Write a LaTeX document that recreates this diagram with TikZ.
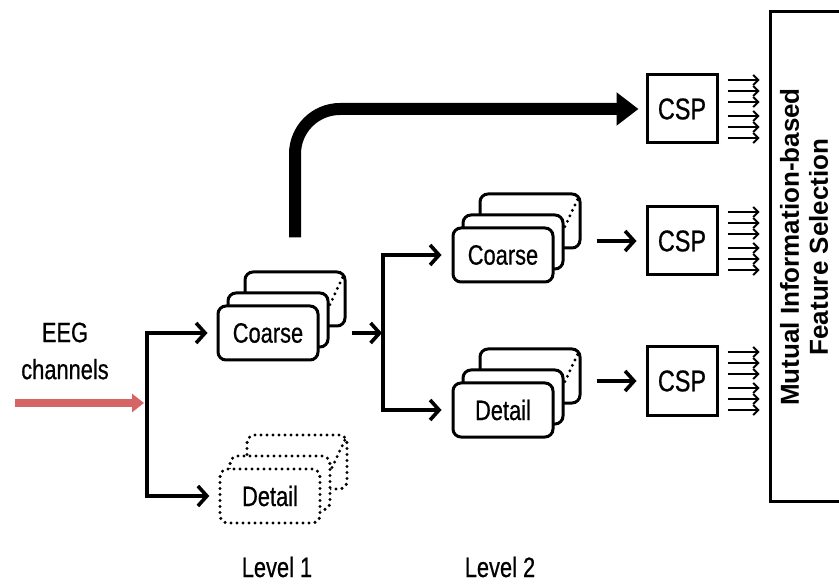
\documentclass[tikz,border=0pt]{standalone}
\usepackage{fontspec}
\setmainfont{Liberation Sans}
\newfontfamily\narrowsf{Liberation Sans}[FakeStretch=0.78, FakeBold=0.6]
\usepackage{tikz}
\usetikzlibrary{arrows.meta, positioning, calc}
\definecolor{eegred}{RGB}{214,100,100}
\tikzset{
   mylayer/.style={draw, fill=white, line width=3pt, rounded corners=8pt, minimum width=100pt, minimum height=54pt, font=\narrowsf\fontsize{28}{30}\selectfont},
   mydotlayer/.style={mylayer, line width=3.4pt, line cap=round, dash pattern=on 0pt off 6pt},
   mycsp/.style={draw, fill=white, line width=3pt, minimum width=70pt, minimum height=68pt, font=\narrowsf\fontsize{30}{32}\selectfont},
   mylabel/.style={font=\narrowsf\fontsize{28}{37}\selectfont, align=center},
   myarrow/.style={line width=3.6pt, -{Straight Barb[length=9pt,width=20pt]}},
   mydots/.style={line width=3.2pt, line cap=round, dash pattern=on 0pt off 6pt},
   myfeat/.style={line width=1.9pt, -{Straight Barb[length=5pt,width=10pt]}}
}

\begin{document}
\begin{tikzpicture}[x=1pt, y=-1pt]
      \useasboundingbox (0,0) rectangle (839,588);
      \clip (0,0) rectangle (839,588);

      % level 1
      \coordinate (c1) at (268,333);
      \coordinate (d1) at (270,496);
      \node[mylayer] (c1back) at ($(c1)+(27,-34)$) {};
      \node[mylayer] (c1mid) at ($(c1)+(10,-13)$) {};
      \node[mylayer] (c1front) at (c1) {Coarse};
      \draw[mydots] ($(c1back.north east)+(-4,7)$) -- ($(c1mid.north east)+(0,14)$);
      \node[mydotlayer] (d1back) at ($(d1)+(27,-34)$) {};
      \node[mydotlayer] (d1mid) at ($(d1)+(10,-13)$) {};
      \node[mydotlayer] (d1front) at (d1) {Detail};
      \draw[mydots] ($(d1back.north east)+(-4,7)$) -- ($(d1mid.north east)+(0,14)$);

      % level 2
      \coordinate (c2) at (503,255);
      \coordinate (d2) at (503,410);
      \node[mylayer] (c2back) at ($(c2)+(27,-34)$) {};
      \node[mylayer] (c2mid) at ($(c2)+(10,-13)$) {};
      \node[mylayer] (c2front) at (c2) {Coarse};
      \draw[mydots] ($(c2back.north east)+(-4,7)$) -- ($(c2mid.north east)+(0,14)$);
      \node[mylayer] (d2back) at ($(d2)+(27,-34)$) {};
      \node[mylayer] (d2mid) at ($(d2)+(10,-13)$) {};
      \node[mylayer] (d2front) at (d2) {Detail};
      \draw[mydots] ($(d2back.north east)+(-4,7)$) -- ($(d2mid.north east)+(0,14)$);

      % csp and selection
      \node[mycsp] (csp1) at (682,109) {CSP};
      \node[mycsp] (csp2) at (682,241) {CSP};
      \node[mycsp] (csp3) at (682,381) {CSP};
      \node[draw, line width=3pt, minimum width=75pt, minimum height=489pt, inner sep=0pt] (mifs) at (807.5,256.5) {};
      \node[rotate=90, align=center, font=\bfseries\fontsize{26}{29}\selectfont] (mifstext) at (804,247) {Mutual Information-based\\Feature Selection};

      % labels
      \node[mylabel] (eeg) at (65,351) {EEG\\channels};
      \node[mylabel] (lev1) at (277,567) {Level 1};
      \node[mylabel] (lev2) at (500,567) {Level 2};

      % connectors
      \coordinate (eegin) at (15,403);
      \coordinate (split1) at (147,403);
      \coordinate (split2) at (383,333);
      \draw[line width=7pt, eegred, -{Triangle[length=12pt,width=18pt]}, shorten >=3pt] (eegin) -- (split1);
      \draw[myarrow, shorten >=9pt] (split1) |- (c1front.west);
      \draw[myarrow, shorten >=9pt] (split1) |- (d1front.west);
      \draw[myarrow, shorten >=1pt] ([xshift=5pt]c1back.east |- c1front.east) -- (split2);
      \draw[myarrow, shorten >=10pt] (split2) |- (c2front.west);
      \draw[myarrow, shorten >=10pt] (split2) |- (d2front.west);
      \draw[myarrow] ([xshift=15pt]c2back.east |- csp2.west) -- ([xshift=-9pt]csp2.west);
      \draw[myarrow] ([xshift=15pt]d2back.east |- csp3.west) -- ([xshift=-9pt]csp3.west);
      \draw[line width=12pt, rounded corners=45pt, -{Triangle[length=22pt,width=32pt]}] ([yshift=33pt]c1back.north) |- ([xshift=-7pt]csp1.west);
      \foreach \c in {csp1,csp2,csp3}
        \foreach \dy in {-29,-18,-7,7,18,29}
          \draw[myfeat] ($(\c.east)+(9,\dy)$) -- ($(mifs.west |- \c.east)+(-9,\dy)$);
\end{tikzpicture}
\end{document}
